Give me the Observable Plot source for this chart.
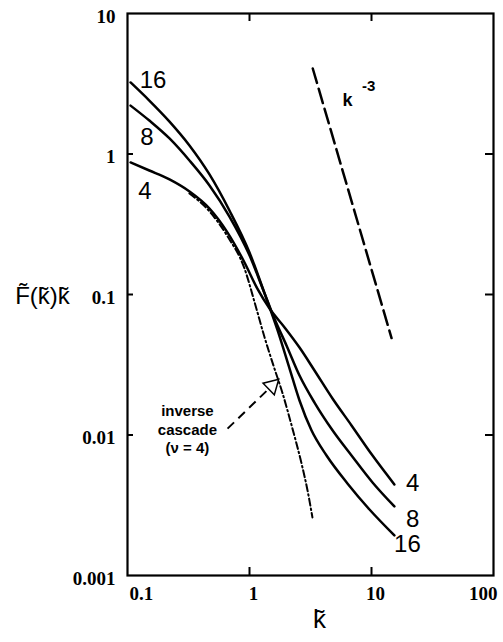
<!DOCTYPE html>
<html><head><meta charset="utf-8">
<script src="https://cdn.jsdelivr.net/npm/d3@7"></script>
<script src="https://cdn.jsdelivr.net/npm/@observablehq/plot@0.6"></script>
<style>body{margin:0;background:#fff} svg{display:block}</style>
</head><body><div id="chart"></div>
<script>
// ---- data ----
const k16 = [0.106,0.151,0.221,0.322,0.470,0.685,1.00,1.33,1.70,2.13,2.57,3.22,4.28,6.35,9.63,15.4];
const F16 = [3.23,2.40,1.70,1.15,0.715,0.396,0.199,0.1016,0.0555,0.0297,0.0176,0.0108,0.00714,0.00452,0.00295,0.00193];
const k8 = [0.106,0.151,0.221,0.322,0.470,0.685,1.00,1.30,1.60,2.01,2.57,3.41,4.79,6.86,10.2,15.4];
const F8 = [2.21,1.73,1.29,0.899,0.597,0.359,0.190,0.107,0.0675,0.0434,0.0265,0.0170,0.0108,0.00714,0.00459,0.00310];
const k4 = [0.106,0.151,0.221,0.322,0.470,0.661,0.910,1.16,1.46,1.94,2.57,3.41,4.79,6.86,10.2,15.4];
const F4 = [0.871,0.763,0.659,0.541,0.409,0.276,0.169,0.110,0.0794,0.0582,0.0419,0.0288,0.0182,0.0117,0.00714,0.00445];
const kInv = [0.322,0.470,0.661,0.910,1.12,1.33,1.57,1.86,2.25,2.67,2.99,3.28];
const FInv = [0.524,0.390,0.259,0.153,0.0835,0.0494,0.0313,0.0200,0.0111,0.00627,0.00403,0.00259];
const kSlope = [3.3, 14.6];
const FSlope = [4.06, 0.049];

// curve labels
const curveLabels = ["16","8","4","4","8","16"];
const curveLabelK = [0.162,0.1445,0.139,21.7,21.7,19.7];
const curveLabelF = [3.36,1.32,0.546,0.00452,0.00251,0.00166];

// annotation
const arrowFrom = [0.661, 0.0111];
const arrowTo = [1.43, 0.0212];
const arrowHead = [1.53, 0.0224];
const annotText = "inverse\ncascade\n(ν = 4)";
const annotPos = [0.31, 0.0111];
const slopeText = ["k", "-3"];
const slopeTextK = [6.35, 9.5];
const slopeTextF = [2.40, 3.05];

// axes
const xTickVals = [0.1, 1, 10, 100];
const xTickLabels = ["0.1", "1", "10", "100"];
const yTickVals = [10, 1, 0.1, 0.01, 0.001];
const yTickLabels = ["10", "1", "0.1", "0.01", "0.001"];
const xInnerTicks = [1, 10];
const yInnerTicks = [1, 0.1, 0.01];

const toRows = (ks, Fs) => ks.map((k, i) => ({k, F: Fs[i]}));
const s16 = toRows(k16, F16), s8 = toRows(k8, F8), s4 = toRows(k4, F4), sInv = toRows(kInv, FInv), sSlope = toRows(kSlope, FSlope);
const labelRows = curveLabels.map((t, i) => ({t, k: curveLabelK[i], F: curveLabelF[i]}));

const sans = "'Liberation Sans', Arial, Helvetica, sans-serif";
const serif = "'Liberation Serif', 'Times New Roman', serif";
const noText = () => "";
const tickFont = {fontFamily: serif, fontSize: 19, fontWeight: "bold", fill: "black"};

const chart = Plot.plot({
  width: 503, height: 642,
  marginTop: 13, marginRight: 10, marginBottom: 67, marginLeft: 127,
  x: {type: "log", domain: [0.1, 100], label: null},
  y: {type: "log", domain: [0.001, 10], label: null},
  style: {fontFamily: sans, background: "white", color: "black"},
  marks: [
    Plot.axisX({anchor: "bottom", ticks: xInnerTicks, tickSize: -8, tickFormat: noText, strokeWidth: 2, label: null}),
    Plot.axisX({anchor: "top", ticks: xInnerTicks, tickSize: -7, tickFormat: noText, strokeWidth: 2, label: null}),
    Plot.axisY({anchor: "left", ticks: yInnerTicks, tickSize: -6, tickFormat: noText, strokeWidth: 2, label: null}),
    Plot.axisY({anchor: "right", ticks: yInnerTicks, tickSize: -9, tickFormat: noText, strokeWidth: 2, label: null}),
    Plot.frame({stroke: "black", strokeWidth: 2.2}),
    // tick labels
    Plot.text(xTickVals.filter((d, i) => i === 0), {x: d => d, text: d => xTickLabels[0], frameAnchor: "bottom", dy: 24, dx: 2, textAnchor: "start", ...tickFont}),
    Plot.text(xTickVals.filter((d, i) => i === 1 || i === 2), {x: d => d, text: d => xTickLabels[xTickVals.indexOf(d)], frameAnchor: "bottom", dy: 24, dx: 4, textAnchor: "middle", ...tickFont}),
    Plot.text(xTickVals.filter((d, i) => i === 3), {x: d => d, text: d => xTickLabels[3], frameAnchor: "bottom", dy: 24, dx: 4, textAnchor: "end", ...tickFont}),
    Plot.text(yTickVals, {y: d => d, text: d => yTickLabels[yTickVals.indexOf(d)], frameAnchor: "left", dx: -12, dy: 3, textAnchor: "end", ...tickFont}),
    // axis titles
    Plot.text(["F\u0303(k\u0303)k\u0303"], {y: [0.0968], frameAnchor: "left", dx: -85, textAnchor: "middle", fontSize: 24, text: d => d}),
    Plot.text(["k\u0303"], {x: [3.75], frameAnchor: "bottom", dy: 52, textAnchor: "middle", fontSize: 26, text: d => d}),
    // curves
    Plot.line(s16, {x: "k", y: "F", stroke: "black", strokeWidth: 2.5, curve: "monotone-x"}),
    Plot.line(s8, {x: "k", y: "F", stroke: "black", strokeWidth: 2.5, curve: "monotone-x"}),
    Plot.line(s4, {x: "k", y: "F", stroke: "black", strokeWidth: 2.5, curve: "monotone-x"}),
    Plot.line(sInv, {x: "k", y: "F", stroke: "black", strokeWidth: 2, strokeDasharray: "7,3,1.5,3", curve: "monotone-x"}),
    Plot.line(sSlope, {x: "k", y: "F", stroke: "black", strokeWidth: 2.5, strokeDasharray: "15,6"}),
    // curve labels
    Plot.text(labelRows, {x: "k", y: "F", text: "t", fontSize: 24, textAnchor: "middle", lineAnchor: "middle"}),
    // annotation arrow
    Plot.link([0], {x1: () => arrowFrom[0], y1: () => arrowFrom[1], x2: () => arrowTo[0], y2: () => arrowTo[1], stroke: "black", strokeWidth: 2, strokeDasharray: "9,6"}),
    Plot.dot([0], {x: () => arrowHead[0], y: () => arrowHead[1], symbol: "triangle", r: 6, rotate: 46, fill: "white", stroke: "black", strokeWidth: 1.5}),
    Plot.text([annotText], {x: () => annotPos[0], y: () => annotPos[1], text: d => d, fontSize: 15, fontWeight: "bold", textAnchor: "middle", lineAnchor: "middle", lineHeight: 1.25}),
    Plot.text(slopeText.slice(0,1), {x: () => slopeTextK[0], y: () => slopeTextF[0], text: d => d, fontSize: 18, fontWeight: "bold", textAnchor: "middle", lineAnchor: "middle"}),
    Plot.text(slopeText.slice(1), {x: () => slopeTextK[1], y: () => slopeTextF[1], text: d => d, fontSize: 15, fontWeight: "bold", textAnchor: "middle", lineAnchor: "middle"})
  ]
});
document.getElementById("chart").append(chart);
</script>
</body></html>
